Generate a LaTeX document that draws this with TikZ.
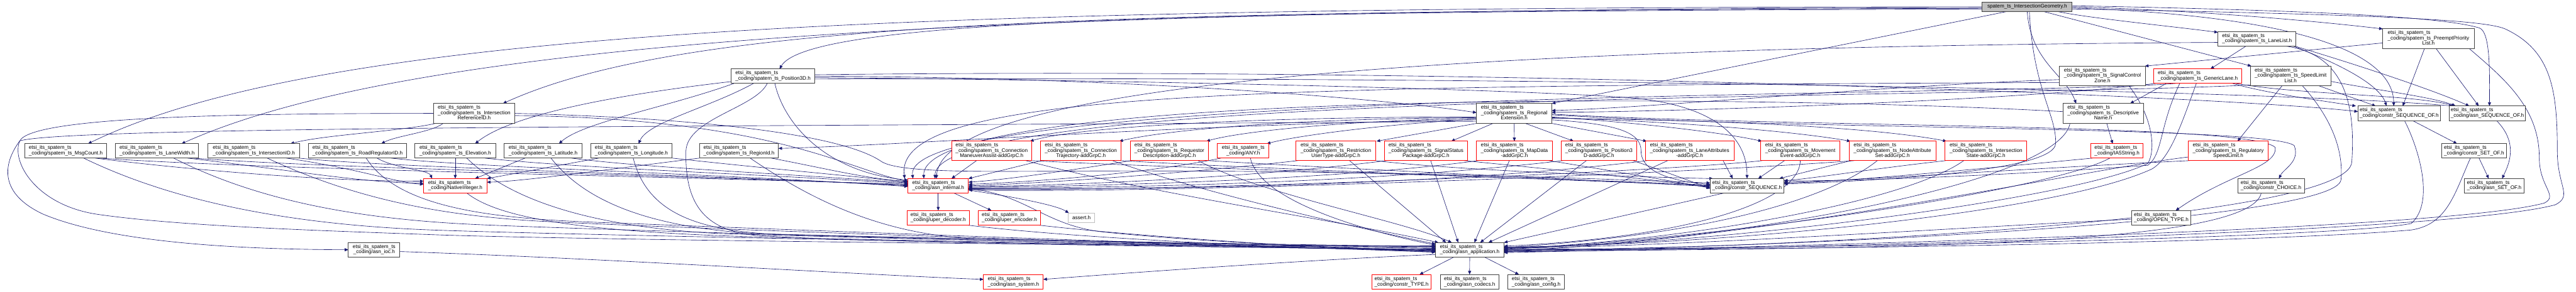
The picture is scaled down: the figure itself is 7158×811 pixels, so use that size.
\documentclass[tikz,border=0pt]{standalone}
\usepackage{fontspec}
\setmainfont{Liberation Sans}
\usetikzlibrary{arrows.meta,calc}
\pgfdeclarelayer{bg}
\pgfsetlayers{bg,main}
\definecolor{edgec}{HTML}{191970}
\definecolor{redc}{HTML}{FF0000}
\definecolor{boxc}{HTML}{404040}
\definecolor{rootc}{HTML}{BFBFBF}
\newcommand\LblA[1]{\begin{tabular}{@{}l@{}}etsi\_its\_spatem\_ts\\\multicolumn{1}{@{}c@{}}{\_coding/#1}\end{tabular}}
\newcommand\LblB[2]{\begin{tabular}{@{}l@{}}etsi\_its\_spatem\_ts\\\_coding/#1\\\multicolumn{1}{@{}c@{}}{#2}\end{tabular}}
\newcommand\gn[7]{%
 \pgfmathsetmacro\gcx{(#3+#4)/2}%
 \pgfmathsetmacro\gcy{(#5+#6)/2}%
 \pgfmathsetmacro\gw{(#4-#3)*0.5}%
 \pgfmathsetmacro\gh{(#6-#5)*0.5}%
 \node[#2,minimum width=\gw pt,minimum height=\gh pt] (#1) at (\gcx,\gcy) {#7};}
\tikzset{
 nd/.style={draw=boxc,line width=0.8pt,fill=white,inner sep=0pt,outer sep=0pt,font=\fontsize{7.15}{7.6}\selectfont},
 rd/.style={nd,draw=redc},
 rt/.style={nd,fill=rootc},
 gy/.style={nd,draw=rootc},
 ed/.style={draw=edgec,line width=0.55pt,-{Triangle[length=5pt,width=4.2pt]}}
}
\begin{document}
\begin{tikzpicture}[x=0.5pt,y=-0.5pt]
\useasboundingbox (0,0) rectangle (7158,811);
% ---------- nodes ----------
\gn{IG}{rt}{5508}{5758}{6}{32}{spatem\_ts\_IntersectionGeometry.h}
\gn{LL}{nd}{6163}{6380}{88}{128}{\LblA{spatem\_ts\_LaneList.h}}
\gn{PPL}{nd}{6621}{6875}{80}{135}{\LblB{spatem\_ts\_PreemptPriority}{List.h}}
\gn{P3D}{nd}{2032}{2264}{192}{232}{\LblA{spatem\_ts\_Position3D.h}}
\gn{SCZ}{nd}{5722}{5962}{184}{239}{\LblB{spatem\_ts\_SignalControl}{Zone.h}}
\gn{GL}{rd}{5985}{6229}{192}{232}{\LblA{spatem\_ts\_GenericLane.h}}
\gn{SLL}{nd}{6253}{6477}{184}{239}{\LblB{spatem\_ts\_SpeedLimit}{List.h}}
\gn{IRID}{nd}{1204}{1431}{288}{343}{\LblB{spatem\_ts\_Intersection}{ReferenceID.h}}
\gn{RE}{nd}{4103}{4312}{288}{343}{\LblB{spatem\_ts\_Regional}{Extension.h}}
\gn{DN}{nd}{5732}{5956}{288}{343}{\LblB{spatem\_ts\_Descriptive}{Name.h}}
\gn{CSO}{nd}{6552}{6781}{295}{336}{\LblA{constr\_SEQUENCE\_OF.h}}
\gn{ASO}{nd}{6806}{7017}{295}{336}{\LblA{asn\_SEQUENCE\_OF.h}}
\gn{MC}{nd}{69}{296}{400}{440}{\LblA{spatem\_ts\_MsgCount.h}}
\gn{LW}{nd}{321}{552}{400}{440}{\LblA{spatem\_ts\_LaneWidth.h}}
\gn{IID}{nd}{578}{833}{400}{440}{\LblA{spatem\_ts\_IntersectionID.h}}
\gn{RRID}{nd}{857}{1130}{400}{440}{\LblA{spatem\_ts\_RoadRegulatorID.h}}
\gn{EL}{nd}{1153}{1377}{400}{440}{\LblA{spatem\_ts\_Elevation.h}}
\gn{LAT}{nd}{1401}{1617}{400}{440}{\LblA{spatem\_ts\_Latitude.h}}
\gn{LON}{nd}{1641}{1868}{400}{440}{\LblA{spatem\_ts\_Longitude.h}}
\gn{RID}{nd}{1944}{2163}{400}{440}{\LblA{spatem\_ts\_RegionId.h}}
\gn{CMA}{rd}{2644}{2867}{393}{447}{\LblB{spatem\_ts\_Connection}{ManeuverAssist-addGrpC.h}}
\gn{CTR}{rd}{2892}{3115}{393}{447}{\LblB{spatem\_ts\_Connection}{Trajectory-addGrpC.h}}
\gn{RD}{rd}{3141}{3358}{393}{447}{\LblB{spatem\_ts\_Requestor}{Description-addGrpC.h}}
\gn{ANY}{rd}{3383}{3526}{400}{440}{\LblA{ANY.h}}
\gn{RUT}{rd}{3601}{3823}{393}{447}{\LblB{spatem\_ts\_Restriction}{UserType-addGrpC.h}}
\gn{SSP}{rd}{3847}{4078}{393}{447}{\LblB{spatem\_ts\_SignalStatus}{Package-addGrpC.h}}
\gn{MD}{rd}{4103}{4313}{393}{447}{\LblB{spatem\_ts\_MapData}{-addGrpC.h}}
\gn{P3DA}{rd}{4338}{4548}{393}{447}{\LblB{spatem\_ts\_Position3}{D-addGrpC.h}}
\gn{LA}{rd}{4572}{4818}{393}{447}{\LblB{spatem\_ts\_LaneAttributes}{-addGrpC.h}}
\gn{ME}{rd}{4892}{5113}{393}{447}{\LblB{spatem\_ts\_Movement}{Event-addGrpC.h}}
\gn{NAS}{rd}{5138}{5379}{393}{447}{\LblB{spatem\_ts\_NodeAttribute}{Set-addGrpC.h}}
\gn{IS}{rd}{5405}{5632}{393}{447}{\LblB{spatem\_ts\_Intersection}{State-addGrpC.h}}
\gn{IA5}{rd}{5810}{5955}{400}{440}{\LblA{IA5String.h}}
\gn{RSL}{rd}{6080}{6303}{393}{447}{\LblB{spatem\_ts\_Regulatory}{SpeedLimit.h}}
\gn{CSETO}{nd}{6784}{6965}{400}{440}{\LblA{constr\_SET\_OF.h}}
\gn{NI}{rd}{1177}{1353}{497}{537}{\LblA{NativeInteger.h}}
\gn{AI}{rd}{2523}{2691}{497}{537}{\LblA{asn\_internal.h}}
\gn{CS}{nd}{4752}{4957}{497}{537}{\LblA{constr\_SEQUENCE.h}}
\gn{CC}{nd}{6218}{6403}{497}{537}{\LblA{constr\_CHOICE.h}}
\gn{ASETO}{nd}{6848}{7013}{497}{537}{\LblA{asn\_SET\_OF.h}}
\gn{UD}{rd}{2520}{2694}{586}{626}{\LblA{uper\_decoder.h}}
\gn{UE}{rd}{2718}{2892}{586}{626}{\LblA{uper\_encoder.h}}
\gn{AS}{gy}{2968}{3042}{593}{619}{assert.h}
\gn{OT}{nd}{5924}{6087}{586}{626}{\LblA{OPEN\_TYPE.h}}
\gn{IOC}{nd}{968}{1111}{675}{715}{\LblA{asn\_ioc.h}}
\gn{AA}{nd}{3989}{4179}{675}{715}{\LblA{asn\_application.h}}
\gn{SYS}{rd}{2733}{2899}{764}{805}{\LblA{asn\_system.h}}
\gn{CTY}{rd}{3812}{3977}{764}{805}{\LblA{constr\_TYPE.h}}
\gn{COD}{nd}{4002}{4165}{764}{805}{\LblA{asn\_codecs.h}}
\gn{CONF}{nd}{4190}{4347}{764}{805}{\LblA{asn\_config.h}}
% ---------- edges ----------
\begin{pgfonlayer}{bg}
\fill[white] (0,0) rectangle (7158,811);
% root
\draw[ed] (IG.west) .. controls (2500,20) and (900,80) .. ($(MC.north)+(62,0)$);
\draw[ed] ($(IG.west)+(0,2)$) .. controls (2700,26) and (1150,110) .. ($(LW.north)+(68,0)$);
\draw[ed] ($(IG.west)+(0,4)$) .. controls (3000,30) and (1900,60) .. ($(IRID.north)+(80,0)$);
\draw[ed] ($(IG.west)+(0,6)$) .. controls (3400,32) and (2250,50) .. ($(P3D.north)+(18,0)$);
\draw[ed] ($(IG.south)+(-56,0)$) -- (RE.north east);
\draw[ed] (IG.south) .. controls (5643,172) and (5739,208) .. ($(DN.north)+(-75,0)$);
\draw[ed] ($(IG.south)+(6,0)$) .. controls (5650,250) and (5715,320) .. (5712,400) .. controls (5708,470) and (5300,500) .. ($(CS.east)+(0,-5)$);
\draw[ed] ($(IG.south)+(45,0)$) -- ($(SLL.north west)+(3,0)$);
\draw[ed] ($(IG.south)+(84,0)$) .. controls (5800,50) and (6050,75) .. ($(LL.west)+(0,-18)$);
\draw[ed] (IG.east) .. controls (6100,28) and (6450,60) .. ($(PPL.west)+(0,-27)$);
\draw[ed] ($(IG.east)+(0,3)$) .. controls (6400,45) and (6650,150) .. ($(CSO.north)+(-15,0)$);
\draw[ed] ($(IG.east)+(0,-3)$) .. controls (6500,30) and (6800,50) .. (6890,78) .. controls (6920,90) and (6918,200) .. ($(ASO.north)+(6,0)$);
\draw[ed] ($(IG.east)+(0,6)$) .. controls (6600,40) and (6900,55) .. (6960,80) .. controls (7090,140) and (7106,250) .. (7106,420) .. controls (7106,520) and (7150,545) .. (7100,570) .. controls (6800,650) and (5000,690) .. ($(AA.east)+(0,6)$);
% IntersectionReferenceID
\draw[ed] ($(IRID.south west)+(8,0)$) .. controls (1120,365) and (900,375) .. ($(IID.north east)+(-26,0)$);
\draw[ed] ($(IRID.south west)+(28,0)$) .. controls (1200,368) and (1100,378) .. ($(RRID.north)+(66,0)$);
\draw[ed] (IRID.west) .. controls (700,316) and (90,322) .. (55,392) .. controls (30,450) and (100,570) .. (268,596) .. controls (500,630) and (900,642) .. (1200,653) .. controls (1600,668) and (3400,688) .. ($(AA.west)+(0,-11)$);
\draw[ed] (IRID.east) .. controls (2000,330) and (2350,380) .. (2450,450) .. controls (2500,480) and (2700,478) .. (3000,476) .. controls (3800,472) and (4500,500) .. ($(CS.west)+(0,-8)$);
\draw[ed] ($(IRID.east)+(0,6)$) .. controls (2150,330) and (2350,470) .. ($(AI.west)+(0,-12)$);
% Position3D
\draw[ed] ($(P3D.west)+(0,15)$) .. controls (1700,265) and (1420,320) .. ($(EL.north)+(55,0)$);
\draw[ed] ($(P3D.south west)+(8,0)$) .. controls (1850,300) and (1620,340) .. ($(LAT.north)+(44,0)$);
\draw[ed] ($(P3D.south)+(-54,0)$) .. controls (1970,300) and (1800,340) .. ($(LON.north)+(20,0)$);
\draw[ed] ($(P3D.south)+(-16,0)$) .. controls (2100,300) and (1910,330) .. (1906,420) .. controls (1903,560) and (1950,640) .. (2100,655) .. controls (2400,675) and (3400,690) .. ($(AA.west)+(0,-2)$);
\draw[ed] ($(P3D.south)+(5,0)$) .. controls (2180,350) and (2300,480) .. ($(AI.west)+(0,-16)$);
\draw[ed] (P3D.east) .. controls (3200,215) and (3900,282) .. ($(RE.west)+(0,-2)$);
\draw[ed] ($(P3D.east)+(0,4)$) .. controls (3300,225) and (4200,250) .. (4500,270) .. controls (4760,285) and (4855,380) .. (CS.north);
\draw[ed] ($(P3D.east)+(0,-4)$) .. controls (4200,185) and (6200,270) .. ($(CSO.west)+(0,-5)$);
\draw[ed] ($(P3D.east)+(0,8)$) .. controls (4200,212) and (6300,250) .. ($(ASO.north)+(-96,0)$);
% RegionalExtension
\draw[ed] ($(RE.west)+(0,22)$) .. controls (2500,352) and (200,348) .. (55,392) .. controls (5,460) and (0,540) .. (120,596) .. controls (320,680) and (700,694) .. (IOC.west);
\draw[ed] ($(RE.west)+(0,18)$) .. controls (3300,345) and (2500,405) .. ($(RID.east)+(0,-7)$);
\draw[ed] ($(RE.west)+(0,10)$) .. controls (3500,325) and (3000,352) .. ($(CMA.north east)+(-5,0)$);
\draw[ed] ($(RE.west)+(0,12)$) .. controls (3600,330) and (3250,360) .. ($(CTR.north east)+(-5,0)$);
\draw[ed] ($(RE.west)+(0,14)$) .. controls (3750,335) and (3450,365) .. ($(RD.north east)+(-6,0)$);
\draw[ed] ($(RE.west)+(0,16)$) .. controls (3850,345) and (3600,378) .. ($(ANY.north east)+(-6,0)$);
\draw[ed] ($(RE.south west)+(2,0)$) -- ($(RUT.north east)+(2,0)$);
\draw[ed] ($(RE.south)+(-58,0)$) -- ($(SSP.north)+(70,0)$);
\draw[ed] (RE.south) -- (MD.north);
\draw[ed] ($(RE.south)+(30,0)$) -- ($(P3DA.north)+(-70,0)$);
\draw[ed] ($(RE.south east)+(-2,0)$) -- ($(LA.north west)+(4,0)$);
\draw[ed] ($(RE.east)+(0,10)$) .. controls (4600,345) and (4800,372) .. ($(ME.north west)+(4,0)$);
\draw[ed] ($(RE.east)+(0,12)$) .. controls (4700,340) and (5000,368) .. ($(NAS.north west)+(4,0)$);
\draw[ed] ($(RE.east)+(0,14)$) .. controls (4900,335) and (5250,362) .. ($(IS.north west)+(4,0)$);
\draw[ed] ($(RE.east)+(0,4)$) .. controls (5000,362) and (6300,350) .. (6375,405) .. controls (6392,450) and (6345,470) .. ($(CC.north)+(22,0)$);
\draw[ed] ($(RE.east)+(0,2)$) .. controls (5000,356) and (6250,342) .. (6322,410) .. controls (6330,465) and (6190,485) .. ($(OT.north)+(40,0)$);
\draw[ed] ($(RE.east)+(0,18)$) .. controls (4500,345) and (4560,370) .. (4560,420) .. controls (4560,480) and (4650,505) .. ($(CS.west)+(0,-4)$);
% DescriptiveName
\draw[ed] ($(DN.south)+(10,0)$) -- ($(IA5.north)+(-12,0)$);
\draw[ed] ($(DN.south west)+(20,0)$) .. controls (5720,520) and (4700,690) .. ($(AA.east)+(0,-6)$);
\draw[ed] ($(DN.west)+(0,-5)$) .. controls (4700,255) and (2560,260) .. ($(AI.north)+(-40,0)$);
% SignalControlZone
\draw[ed] ($(SCZ.west)+(0,10)$) .. controls (5200,240) and (4600,300) .. ($(RE.east)+(0,-8)$);
\draw[ed] ($(SCZ.west)+(0,18)$) .. controls (3500,240) and (2480,250) .. ($(AI.north)+(-93,0)$);
\draw[ed] ($(SCZ.south)+(74,0)$) .. controls (5985,330) and (5990,420) .. (5968,455) .. controls (5750,560) and (4700,688) .. ($(AA.east)+(0,-7)$);
% GenericLane
\draw[ed] ($(GL.south west)+(35,0)$) -- ($(DN.north east)+(-37,0)$);
\draw[ed] ($(GL.south east)+(-26,0)$) .. controls (6300,260) and (6450,280) .. ($(CSO.north)+(-120,0)$);
\draw[ed] ($(GL.south east)+(-18,0)$) .. controls (6400,265) and (6700,262) .. ($(ASO.north)+(-90,0)$);
\draw[ed] ($(GL.south west)+(5,0)$) .. controls (5600,282) and (4600,312) .. ($(RE.east)+(0,-3)$);
\draw[ed] ($(GL.south)+(-60,0)$) .. controls (5600,270) and (2500,245) .. ($(AI.north)+(-70,0)$);
\draw[ed] ($(GL.south)+(-50,0)$) .. controls (6000,350) and (6010,430) .. (5968,460) .. controls (5700,480) and (5200,505) .. ($(CS.east)+(0,-14)$);
\draw[ed] ($(GL.south)+(-4,0)$) .. controls (6060,350) and (6030,440) .. (5980,470) .. controls (5700,600) and (4700,686) .. ($(AA.east)+(0,-8)$);
% LaneList
\draw[ed] ($(LL.south)+(-30,0)$) -- ($(GL.north)+(35,0)$);
\draw[ed] ($(LL.south)+(100,0)$) .. controls (6480,170) and (6610,230) .. ($(CSO.north)+(-35,0)$);
\draw[ed] ($(LL.south east)+(-5,0)$) .. controls (6550,180) and (6760,250) .. ($(ASO.north)+(-50,0)$);
\draw[ed] ($(LL.south)+(77,0)$) .. controls (6520,150) and (6545,300) .. (6535,450) .. controls (6530,610) and (5000,690) .. ($(AA.east)+(0,4)$);
\draw[ed] ($(LL.west)+(0,10)$) .. controls (4200,130) and (2620,220) .. ($(AI.north)+(-5,0)$);
% PreemptPriorityList
\draw[ed] ($(PPL.west)+(0,12)$) -- ($(SCZ.north east)+(-2,0)$);
\draw[ed] ($(PPL.south)+(-11,0)$) -- ($(CSO.north)+(10,0)$);
\draw[ed] ($(PPL.south)+(21,0)$) -- ($(ASO.north)+(-24,0)$);
\draw[ed] ($(PPL.south east)+(-14,0)$) .. controls (6960,220) and (7056,300) .. (7056,440) .. controls (7056,520) and (7110,545) .. (7070,565) .. controls (6800,640) and (5000,685) .. ($(AA.east)+(0,8)$);
% SpeedLimitList
\draw[ed] ($(SLL.south)+(-24,0)$) -- ($(RSL.north)+(26,0)$);
\draw[ed] ($(SLL.south)+(79,0)$) -- ($(CSO.north)+(-65,0)$);
\draw[ed] ($(SLL.east)+(0,15)$) .. controls (6600,250) and (6760,270) .. ($(ASO.north)+(-88,0)$);
\draw[ed] ($(SLL.south)+(33,0)$) .. controls (6480,330) and (6512,420) .. (6505,500) .. controls (6495,615) and (5000,690) .. ($(AA.east)+(0,2)$);
\draw[ed] ($(SLL.west)+(0,25)$) .. controls (5500,275) and (2600,250) .. ($(AI.north)+(-9,0)$);
% SEQUENCE_OF / SET_OF
\draw[ed] ($(CSO.south)+(38,0)$) -- ($(CSETO.north)+(-47,0)$);
\draw[ed] ($(CSO.south)+(15,0)$) .. controls (6715,400) and (6770,560) .. (6700,622) .. controls (6500,662) and (5000,694) .. ($(AA.east)+(0,-2)$);
\draw[ed] ($(ASO.south)+(26,0)$) .. controls (7000,400) and (6970,460) .. ($(ASETO.north)+(22,0)$);
\draw[ed] ($(CSETO.south)+(14,0)$) -- ($(ASETO.north)+(-15,0)$);
\draw[ed] ($(CSETO.south)+(-10,0)$) .. controls (6820,540) and (6800,625) .. (6700,640) .. controls (6300,675) and (5000,696) .. (AA.east);
% integer types
\draw[ed] ($(MC.south)+(82,0)$) .. controls (500,470) and (900,505) .. ($(NI.west)+(0,-13)$);
\draw[ed] ($(MC.south)+(50,0)$) .. controls (480,560) and (800,625) .. (1200,640) .. controls (1600,655) and (3400,688) .. ($(AA.west)+(0,1)$);
\draw[ed] ($(MC.south)+(95,0)$) .. controls (700,470) and (1800,490) .. ($(AI.west)+(0,-4)$);
\draw[ed] ($(LW.south)+(84,0)$) .. controls (800,472) and (1000,508) .. ($(NI.west)+(0,-7)$);
\draw[ed] ($(LW.south)+(46,0)$) .. controls (720,560) and (1000,612) .. (1350,626) .. controls (1800,645) and (3400,688) .. ($(AA.west)+(0,2)$);
\draw[ed] ($(LW.south)+(100,0)$) .. controls (900,468) and (1900,488) .. ($(AI.west)+(0,-2)$);
\draw[ed] ($(IID.south)+(90,0)$) .. controls (1000,470) and (1100,508) .. ($(NI.west)+(0,-4)$);
\draw[ed] ($(IID.south)+(37,0)$) .. controls (1000,560) and (1250,605) .. (1550,618) .. controls (2000,640) and (3400,686) .. ($(AA.west)+(0,3)$);
\draw[ed] ($(IID.south east)+(-3,0)$) .. controls (1100,468) and (1950,486) .. (AI.west);
\draw[ed] ($(RRID.south)+(54,0)$) .. controls (1100,470) and (1190,472) .. ($(NI.north)+(-64,0)$);
\draw[ed] ($(RRID.south)+(24,0)$) .. controls (1120,600) and (1450,612) .. (1750,622) .. controls (2200,640) and (3400,684) .. ($(AA.west)+(0,4)$);
\draw[ed] ($(RRID.south)+(93,0)$) .. controls (1300,465) and (2000,484) .. ($(AI.west)+(0,2)$);
\draw[ed] (EL.south) -- (NI.north);
\draw[ed] ($(EL.south)+(32,0)$) .. controls (1420,560) and (1650,632) .. (2000,650) .. controls (2600,668) and (3400,684) .. ($(AA.west)+(0,-4)$);
\draw[ed] ($(EL.south)+(82,0)$) .. controls (1600,468) and (2100,484) .. ($(AI.west)+(0,-6)$);
\draw[ed] ($(LAT.south)+(-50,0)$) -- ($(NI.north)+(55,0)$);
\draw[ed] ($(LAT.south)+(22,0)$) .. controls (1640,580) and (1850,635) .. (2100,650) .. controls (2600,664) and (3400,680) .. ($(AA.west)+(0,-6)$);
\draw[ed] ($(LAT.south)+(79,0)$) .. controls (1800,468) and (2200,484) .. ($(AI.west)+(0,-8)$);
\draw[ed] ($(LON.south west)+(23,0)$) -- ($(NI.east)+(0,-20)$);
\draw[ed] ($(LON.south)+(5,0)$) .. controls (1800,600) and (1950,640) .. (2150,652) .. controls (2600,664) and (3400,678) .. ($(AA.west)+(0,-9)$);
\draw[ed] (LON.south east) .. controls (2100,466) and (2350,488) .. ($(AI.west)+(0,-10)$);
\draw[ed] (RID.south west) .. controls (1700,470) and (1450,505) .. ($(NI.east)+(0,-10)$);
\draw[ed] ($(RID.south)+(31,0)$) .. controls (2260,560) and (2450,650) .. (2700,664) .. controls (3100,676) and (3600,682) .. ($(AA.west)+(0,-8)$);
\draw[ed] ($(RID.south east)+(-20,0)$) .. controls (2300,470) and (2400,496) .. ($(AI.west)+(0,-12)$);
\draw[ed] ($(NI.south)+(32,0)$) .. controls (1400,620) and (1700,650) .. (2200,662) .. controls (2800,675) and (3500,686) .. (AA.west);
% addGrpC headers
\draw[ed] ($(CMA.south)+(-42,0)$) -- ($(AI.north)+(37,0)$);
\draw[ed] ($(CMA.south)+(95,0)$) .. controls (3200,540) and (3700,610) .. ($(AA.north west)+(8,0)$);
\draw[ed] (CMA.south east) .. controls (3300,470) and (4400,498) .. ($(CS.west)+(0,-2)$);
\draw[ed] ($(CTR.south west)+(2,0)$) -- (AI.north east);
\draw[ed] ($(CTR.south)+(88,0)$) .. controls (3350,540) and (3800,640) .. ($(AA.west)+(0,-16)$);
\draw[ed] (CTR.south east) .. controls (3500,470) and (4400,502) .. (CS.west);
\draw[ed] ($(RD.south west)+(2,0)$) .. controls (3000,470) and (2800,500) .. ($(AI.east)+(0,-10)$);
\draw[ed] ($(RD.south)+(80,0)$) .. controls (3500,540) and (3900,615) .. ($(AA.north)+(-50,0)$);
\draw[ed] (RD.south east) .. controls (3700,468) and (4400,500) .. ($(CS.west)+(0,2)$);
\draw[ed] ($(ANY.south west)+(10,0)$) .. controls (3200,480) and (2900,505) .. ($(AI.east)+(0,-4)$);
\draw[ed] ($(ANY.south)+(20,0)$) .. controls (3500,560) and (3800,645) .. ($(AA.west)+(0,-13)$);
\draw[ed] ($(RUT.south)+(38,0)$) -- ($(AA.north)+(-66,0)$);
\draw[ed] ($(RUT.south west)+(5,0)$) .. controls (3300,482) and (2900,510) .. (AI.east);
\draw[ed] (RUT.south east) .. controls (4000,470) and (4500,492) .. ($(CS.north west)+(8,0)$);
\draw[ed] ($(SSP.south)+(13,0)$) -- ($(AA.north)+(-32,0)$);
\draw[ed] ($(SSP.south west)+(5,0)$) .. controls (3500,492) and (3000,516) .. ($(AI.east)+(0,2)$);
\draw[ed] ($(SSP.south east)+(-10,0)$) .. controls (4300,470) and (4600,500) .. ($(CS.west)+(0,4)$);
\draw[ed] ($(MD.south)+(-14,0)$) -- ($(AA.north)+(13,0)$);
\draw[ed] ($(MD.south west)+(5,0)$) .. controls (3700,502) and (3000,520) .. ($(AI.east)+(0,4)$);
\draw[ed] ($(MD.south east)+(-10,0)$) .. controls (4450,470) and (4650,505) .. ($(CS.west)+(0,6)$);
\draw[ed] ($(P3DA.south)+(-35,0)$) -- ($(AA.north)+(29,0)$);
\draw[ed] ($(P3DA.south west)+(5,0)$) .. controls (3800,510) and (3100,524) .. ($(AI.east)+(0,6)$);
\draw[ed] ($(P3DA.south east)+(-10,0)$) .. controls (4620,475) and (4700,505) .. ($(CS.west)+(0,8)$);
\draw[ed] ($(LA.south)+(-61,0)$) -- ($(AA.north)+(52,0)$);
\draw[ed] ($(LA.south west)+(5,0)$) .. controls (4000,518) and (3200,528) .. ($(AI.east)+(0,8)$);
\draw[ed] ($(LA.south east)+(-30,0)$) -- ($(CS.north)+(-40,0)$);
\draw[ed] ($(ME.south)+(-44,0)$) -- ($(CS.north)+(31,0)$);
\draw[ed] (ME.south) .. controls (5000,560) and (4700,660) .. ($(AA.east)+(0,-10)$);
\draw[ed] ($(ME.south west)+(5,0)$) .. controls (4600,480) and (3300,532) .. ($(AI.east)+(0,10)$);
\draw[ed] ($(NAS.south west)+(5,0)$) -- ($(CS.north east)+(-13,0)$);
\draw[ed] ($(NAS.south)+(-42,0)$) .. controls (5100,540) and (4800,650) .. ($(AA.east)+(0,-6)$);
\draw[ed] ($(NAS.south west)+(15,0)$) .. controls (4700,482) and (3300,538) .. ($(AI.east)+(0,12)$);
\draw[ed] ($(IS.south west)+(2,0)$) .. controls (5200,470) and (5050,495) .. ($(CS.east)+(0,-14)$);
\draw[ed] ($(IS.south)+(-62,0)$) .. controls (5300,560) and (4700,670) .. ($(AA.east)+(0,-3)$);
% other leaves
\draw[ed] ($(IA5.south)+(-20,0)$) .. controls (5700,530) and (4800,662) .. ($(AA.east)+(0,-1)$);
\draw[ed] ($(IA5.south west)+(5,0)$) .. controls (5500,470) and (5100,508) .. ($(CS.east)+(0,-8)$);
\draw[ed] ($(RSL.west)+(0,17)$) .. controls (5800,470) and (4900,670) .. ($(AA.east)+(0,3)$);
\draw[ed] ($(RSL.south west)+(5,0)$) .. controls (5700,465) and (5100,506) .. ($(CS.east)+(0,-10)$);
\draw[ed] ($(CC.south)+(-27,0)$) .. controls (6250,690) and (5200,690) .. ($(AA.east)+(0,5)$);
\draw[ed] ($(OT.west)+(0,4)$) .. controls (5500,630) and (4600,690) .. ($(AA.east)+(0,-5)$);
\draw[ed] ($(CS.south west)+(40,0)$) -- (AA.north east);
% asn_internal and below
\draw[ed] (AI.south) -- (UD.north);
\draw[ed] ($(AI.south)+(43,0)$) -- ($(UE.north)+(-50,0)$);
\draw[ed] ($(AI.east)+(0,12)$) .. controls (2800,545) and (2935,570) .. ($(AS.north west)+(2,0)$);
\draw[ed] ($(AI.east)+(0,8)$) .. controls (2850,540) and (2900,625) .. (3060,645) .. controls (3400,680) and (3800,690) .. ($(AA.west)+(0,5)$);
\draw[ed] ($(UD.south east)+(-10,0)$) .. controls (3000,665) and (3600,690) .. ($(AA.west)+(0,6)$);
\draw[ed] ($(UE.south east)+(-10,0)$) .. controls (3100,652) and (3600,688) .. ($(AA.west)+(0,7)$);
\draw[ed] ($(AA.south)+(-43,0)$) -- ($(CTY.north)+(50,0)$);
\draw[ed] (AA.south) -- (COD.north);
\draw[ed] ($(AA.south)+(40,0)$) -- ($(CONF.north)+(-48,0)$);
\draw[ed] ($(AA.west)+(0,13)$) .. controls (3600,725) and (3100,762) .. ($(SYS.east)+(0,-7)$);
\draw[ed] ($(IOC.east)+(0,5)$) .. controls (1700,720) and (2400,765) .. ($(SYS.west)+(0,-7)$);
\end{pgfonlayer}
\end{tikzpicture}
\end{document}
